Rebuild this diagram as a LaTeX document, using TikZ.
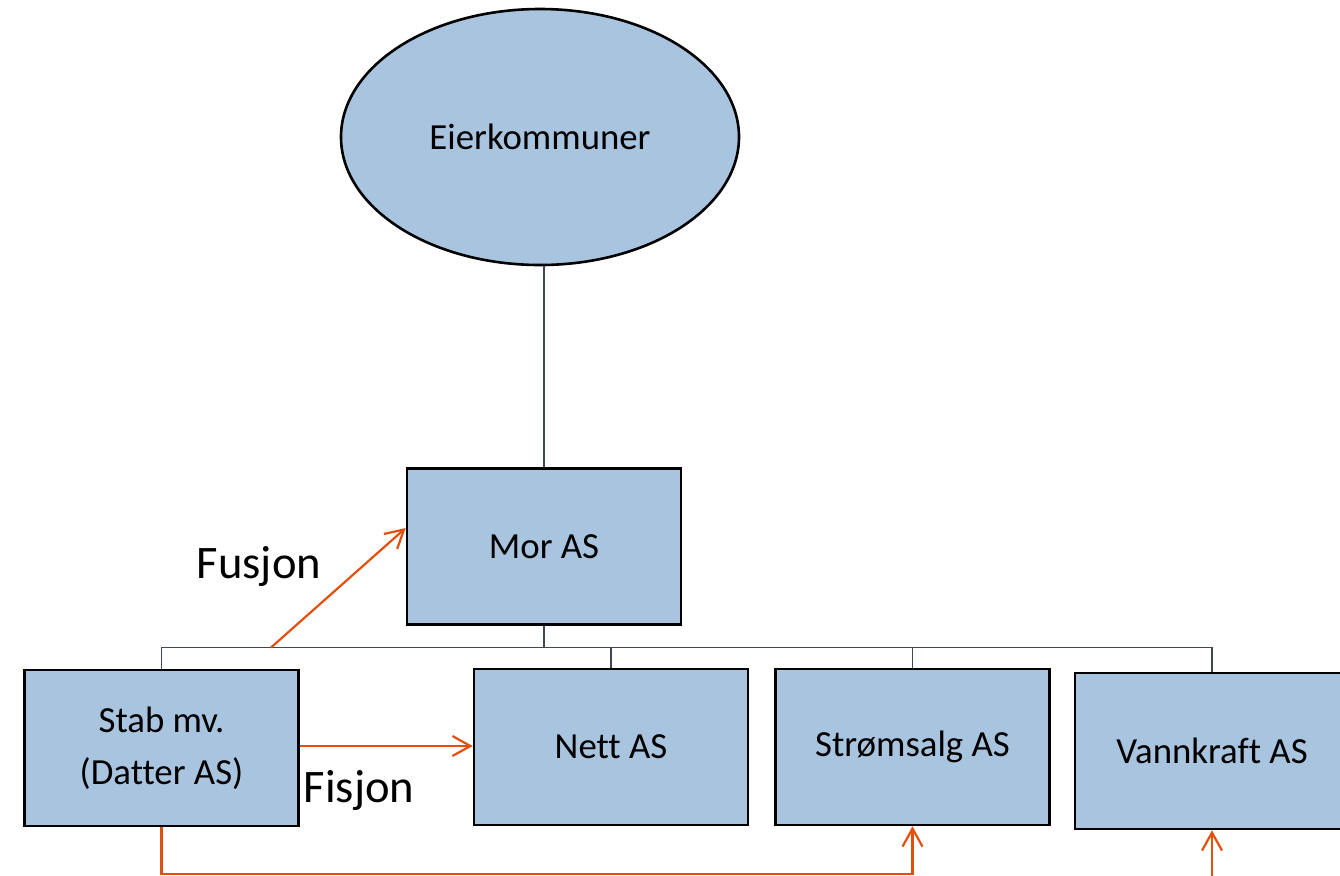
\documentclass[tikz,border=0pt]{standalone}
\usepackage{fontspec}
\setmainfont{Carlito}[RawFeature={-liga;-clig;-calt;-dlig}]
\usetikzlibrary{arrows.meta,shapes.geometric}
\definecolor{boxfill}{HTML}{A9C4DE}
\definecolor{orgline}{HTML}{E34F0C}
\definecolor{conn}{HTML}{3E4752}
\tikzset{
  unitbox/.style={draw=black, line width=1.3pt, fill=boxfill, minimum width=137pt, minimum height=78pt, inner sep=0pt, font=\fontsize{18.4}{26}\selectfont, align=center},
  connline/.style={draw=conn, line width=0.85pt},
  orgarrow/.style={draw=orgline, line width=1.1pt, -{Straight Barb[length=9pt,width=10pt,line width=1.1pt]}},
  biglabel/.style={font=\fontsize{23.3}{28}\selectfont, inner sep=0pt}
}
\begin{document}
\begin{tikzpicture}[x=0.5pt,y=-0.5pt]
\useasboundingbox (0,0) rectangle (1340,875);
\clip (0,0) rectangle (1340,875);
\node[ellipse, draw=black, line width=1.3pt, fill=boxfill, minimum width=199pt, minimum height=128pt, inner sep=0pt, font=\fontsize{18.4}{26}\selectfont] (eier) at (540,137) {Eierkommuner};
\node[unitbox] (mor) at (544,546.5) {\raisebox{-1pt}{Mor AS}};
\node[unitbox] (stab) at (161.5,748) {Stab mv.\\(Da{}t{}ter AS)};
\node[unitbox] (nett) at (611,747) {\raisebox{-1pt}{Ne{}t{}t AS}};
\node[unitbox] (strom) at (912.5,747) {\raisebox{-1pt}{Strømsalg AS}};
\node[unitbox] (vann) at (1212,751) {\raisebox{-1pt}{Vannkraf{}t AS}};
\coordinate (hub) at (544,647.5);
\coordinate (vannstart) at (1212,880);
\coordinate (fusstart) at (271,647.5);
\draw[connline] (mor.north) -- (mor.north |- eier.south);
\draw[connline] (mor.south) -- (hub);
\draw[connline] (stab.north) |- (hub);
\draw[connline] (hub) -| (vann.north);
\draw[connline] (nett.north) -- (nett.north |- hub);
\draw[connline] (strom.north) -- (strom.north |- hub);
\draw[orgarrow] (fusstart) -- (mor.west |- 0,528);
\draw[orgarrow] (stab.east |- 0,746) -- (nett.west |- 0,746);
\draw[orgarrow] (stab.south) -- ++(0,47) -| (strom.south);
\draw[orgarrow] (vannstart) -- (vann.south);
\node[biglabel] (fus) at (259,566) {Fusjon};
\node[biglabel] (fis) at (359,790) {Fisjon};
\end{tikzpicture}
\end{document}
